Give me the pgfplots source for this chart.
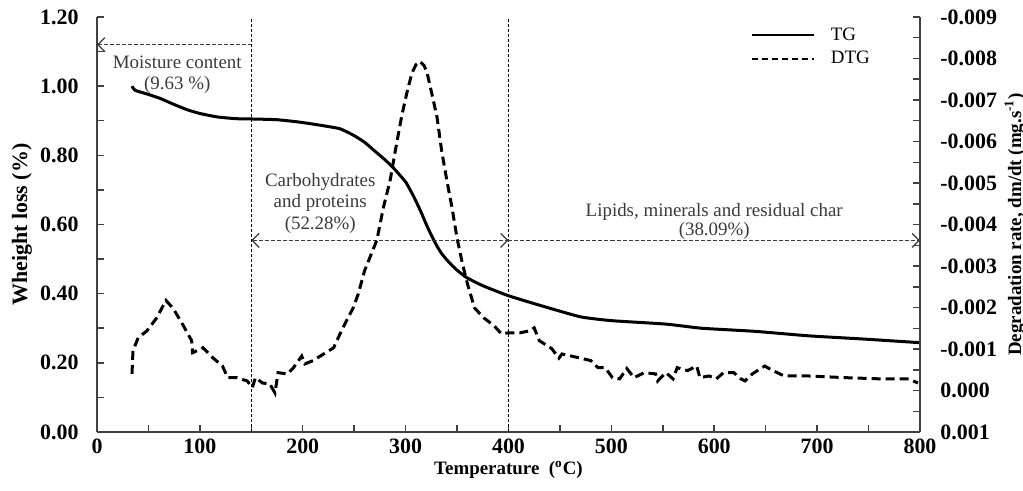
\documentclass[border=0pt]{standalone}
\usepackage{fontspec}
\setmainfont{Liberation Serif}
\usepackage{pgfplots}
\pgfplotsset{compat=1.18}
\usetikzlibrary{arrows.meta}
\definecolor{axisgray}{HTML}{404040}
\definecolor{anngray}{HTML}{3A3A3A}
\tikzset{
  dtgstyle/.style={black, line width=1.5bp, dash pattern=on 4.5bp off 2.5bp},
  tgstyle/.style={black, line width=1.5bp},
  annline/.style={anngray, line width=0.6bp, dash pattern=on 2bp off 1bp},
  annarrow/.tip={Straight Barb[length=3.5bp,width=7bp]},
}
\pgfplotsset{
  common/.style={
    scale only axis, width=411.5bp, height=207.5bp,
    xmin=0, xmax=800,
    axis line style={axisgray, line width=0.75bp, -},
    tick align=inside, major tick length=3.5bp, minor tick length=3.5bp,
    every tick/.style={axisgray, line width=0.75bp},
    /pgf/number format/assume math mode=true,
    scaled y ticks=false,
    tick label style={font=\bfseries\fontsize{11}{13}\selectfont},
    clip=false,
  }
}
\begin{document}
\begin{tikzpicture}
\begin{axis}[common, name=main,
  ymin=0, ymax=1.2,
  axis x line*=bottom, axis y line*=left,
  xtick={0,100,200,300,400,500,600,700,800},
  minor xtick={50,150,250,350,450,550,650,750},
  ytick={0,0.2,0.4,0.6,0.8,1.0,1.2},
  minor ytick={0.1,0.3,0.5,0.7,0.9,1.1},
  yticklabel style={/pgf/number format/fixed, /pgf/number format/fixed zerofill, /pgf/number format/precision=2, anchor=east, inner sep=0pt, xshift=-9bp},
  xticklabel style={anchor=base, inner sep=0pt, yshift=-10.5bp},
  xlabel={Temperature\ \ (\textsuperscript{o}C)},
  ylabel={Wheight loss (\%)},
  every axis x label/.style={at={(axis description cs:0.5,-0.0916)}, anchor=center, font=\bfseries\fontsize{9.5}{11}\selectfont},
  every axis y label/.style={at={(axis description cs:-0.0911,0.5)}, rotate=90, anchor=center, font=\bfseries\fontsize{11}{13}\selectfont},
  legend style={draw=none, fill=none, at={(axis description cs:0.794,0.985)}, anchor=north west, font=\fontsize{9.5}{11}\selectfont, row sep=0bp, inner sep=0pt, /tikz/every odd column/.append style={column sep=6bp}},
  legend cell align=left,
  legend image code/.code={\draw[#1, line width=1bp] (0bp,0bp) -- (31bp,0bp);},
]
\addplot[black, line width=0.6bp, dash pattern=on 1.5bp off 1bp, forget plot] coordinates {(150,0)(150,1.2)};
\addplot[black, line width=0.6bp, dash pattern=on 1.5bp off 1bp, forget plot] coordinates {(400,0)(400,1.2)};
\addplot[tgstyle, smooth, tension=0.3] coordinates {
(34,1.000)(37,0.988)(48,0.978)(61,0.965)(75,0.947)(87.5,0.932)(100,0.921)(117,0.911)(135,0.906)(152,0.905)(175,0.903)(197,0.896)(215,0.888)(236,0.877)(250,0.857)(260,0.838)(269,0.815)(280,0.787)(288,0.764)(300,0.723)(308,0.680)(315,0.636)(321,0.594)(327,0.557)(331,0.535)(335,0.516)(340,0.498)(345,0.482)(350,0.468)(359,0.447)(375,0.423)(400,0.394)(432,0.365)(470,0.333)(500,0.322)(553,0.312)(588,0.300)(640,0.291)(692,0.278)(744,0.269)(796,0.259)(800,0.258)
};
\addlegendentry{TG}
\addlegendimage{black, dash pattern=on 3bp off 2bp}
\addlegendentry{DTG}
\draw[annline, annarrow-] (axis cs:0,1.12) -- (axis cs:150,1.12);
\draw[annline, annarrow-annarrow] (axis cs:150,0.554) -- (axis cs:400,0.554);
\draw[annline, -annarrow] (axis cs:400,0.554) -- (axis cs:800,0.554);
\node[anngray, align=center, font=\fontsize{9.5}{10.5}\selectfont] at (axis cs:78,1.032) {Moisture content\\(9.63 \%)};
\node[anngray, align=center, font=\fontsize{9.5}{10.8}\selectfont] at (axis cs:217,0.661) {Carbohydrates\\and proteins\\(52.28\%)};
\node[anngray, align=center, font=\fontsize{9.5}{7.5}\selectfont] at (axis cs:600,0.61) {Lipids, minerals and residual char\\(38.09\%)};
\end{axis}
\begin{axis}[common, at={(main.center)}, anchor=center,
  ymin=-0.009, ymax=0.001, y dir=reverse,
  axis y line*=right, axis x line=none,
  ytick={-0.009,-0.008,-0.007,-0.006,-0.005,-0.004,-0.003,-0.002,-0.001,0,0.001},
  minor y tick num=1,
  yticklabel style={/pgf/number format/fixed, /pgf/number format/fixed zerofill, /pgf/number format/precision=3, anchor=west, inner sep=0pt, xshift=10bp},
  ylabel={Degradation rate, dm/dt (mg.s\textsuperscript{-1})},
  every axis y label/.style={at={(axis description cs:1.1154,0.5)}, rotate=90, anchor=center, font=\bfseries\fontsize{9.5}{11}\selectfont},
]
\addplot[dtgstyle] coordinates {
(34,-0.00040)(35,-0.00096)(40,-0.00127)(48.6,-0.00144)(58,-0.00175)(67,-0.00217)(74,-0.00198)(84,-0.00156)(92,-0.00120)(93,-0.00091)(103,-0.00103)(113,-0.00078)(122,-0.00059)(127,-0.00031)(136,-0.00031)(146,-0.00023)(151,-0.00007)(154,-0.00031)(161,-0.00018)(168,-0.00016)(173,0.00006)(176,-0.00043)(185,-0.00040)(191,-0.00055)(199,-0.00083)(202,-0.00064)(210,-0.00072)(230,-0.00103)(239,-0.00151)(249,-0.00199)(254,-0.00233)(260,-0.00288)(266,-0.00325)(272,-0.00362)(278.5,-0.00442)(285,-0.00507)(290,-0.00578)(296,-0.00659)(301,-0.00715)(306,-0.00764)(310,-0.00785)(314,-0.00793)(318,-0.00783)(321,-0.00764)(325.5,-0.00715)(330.5,-0.00659)(335,-0.00578)(340,-0.00507)(345,-0.00442)(350,-0.00367)(355,-0.00308)(360,-0.00258)(367,-0.00199)(376,-0.00175)(386,-0.00156)(393,-0.00137)(400,-0.00139)(411,-0.00139)(421,-0.00144)(425,-0.00151)(430,-0.00120)(442,-0.00101)(449,-0.00078)(452,-0.00088)(470,-0.00078)(480,-0.00072)(487,-0.00055)(494,-0.00055)(501,-0.00031)(508,-0.00028)(515,-0.00053)(522,-0.00031)(532,-0.00043)(543,-0.00040)(545,-0.00023)(553,-0.00043)(560,-0.00028)(564,-0.00055)(574,-0.00048)(583,-0.00059)(586,-0.00031)(595,-0.00035)(602,-0.00028)(609,-0.00043)(619,-0.00043)(626,-0.00028)(630,-0.00023)(637,-0.00040)(649,-0.00059)(657,-0.00048)(668,-0.00035)(692,-0.00035)(727,-0.00031)(762,-0.00028)(789,-0.00028)(798,-0.00018)
};
\end{axis}
\pgfresetboundingbox
\path[use as bounding box] ([shift={(-48.5bp,-29.5bp)}]main.south west) rectangle ([shift={(463bp,216bp)}]main.south west);
\end{tikzpicture}
\end{document}
